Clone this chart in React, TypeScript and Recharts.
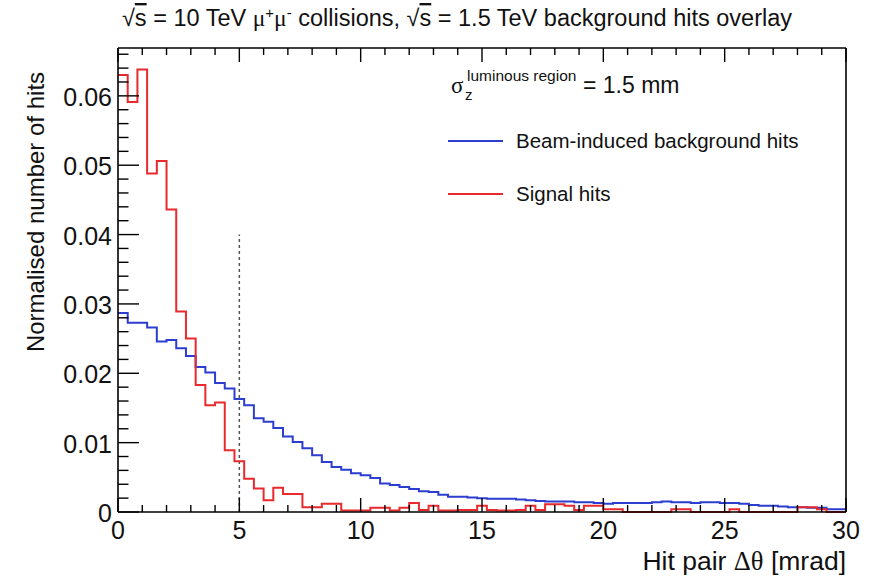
import React from 'react';
import { ComposedChart, Line, XAxis, YAxis, ReferenceLine, Customized } from 'recharts';

// Histogram binning: 75 bins of 0.4 mrad between 0 and 30 mrad
const BIN_WIDTH = 0.4;
const X_MIN = 0;
const X_MAX = 30;
const Y_MIN = 0;
const Y_MAX = 0.0669;

// Normalised hit counts per bin
const backgroundHits = [
  0.0287, 0.0273, 0.0273, 0.0266, 0.0246, 0.0248, 0.0236, 0.0225, 0.0209, 0.0201,
  0.0186, 0.0178, 0.0163, 0.0154, 0.0135, 0.0130, 0.0121, 0.0109, 0.0101, 0.0092,
  0.0082, 0.0072, 0.0065, 0.0061, 0.0056, 0.0053, 0.0049, 0.0041, 0.0039, 0.0036,
  0.0033, 0.0030, 0.0029, 0.0025, 0.0022, 0.0022, 0.0021, 0.0020, 0.0019, 0.0019,
  0.0019, 0.0018, 0.0017, 0.0016, 0.0015, 0.0015, 0.0015, 0.0014, 0.0014, 0.0013,
  0.0012, 0.0013, 0.0013, 0.0013, 0.0013, 0.0014, 0.0015, 0.0014, 0.0014, 0.0013,
  0.0014, 0.0014, 0.0013, 0.0013, 0.0012, 0.0010, 0.0009, 0.0009, 0.0008, 0.0007,
  0.0007, 0.0006, 0.0006, 0.0004, 0.0004,
];

const signalHits = [
  0.0630, 0.0591, 0.0638, 0.0488, 0.0506, 0.0436, 0.0289, 0.0250, 0.0183, 0.0154,
  0.0158, 0.0089, 0.0073, 0.0048, 0.0034, 0.0017, 0.0035, 0.0026, 0.0026, 0.0007,
  0.0007, 0.0012, 0.0012, 0.0002, 0.0002, 0.0002, 0.0006, 0.0006, 0.0002, 0.0006,
  0.0013, 0.0003, 0.0009, 0.0002, 0.0002, 0.0003, 0.0003, 0.0009, 0.0003, 0.0002,
  0.0002, 0.0003, 0.0009, 0.0003, 0.0011, 0.0011, 0.0009, 0.0003, 0.0009, 0.0009,
  0.0004, 0.0004, 0.0000, 0.0000, 0.0000, 0.0000, 0.0000, 0.0004, 0.0004, 0.0000,
  0.0000, 0.0000, 0.0000, 0.0004, 0.0000, 0.0000, 0.0000, 0.0000, 0.0000, 0.0000,
  0.0007, 0.0007, 0.0004, 0.0000, 0.0000,
];

// Axis ticks: majors carry labels, minors are unlabeled
const xTicks = [0, 1, 2, 3, 4, 5, 6, 7, 8, 9, 10, 11, 12, 13, 14, 15, 16, 17, 18, 19, 20, 21, 22, 23, 24, 25, 26, 27, 28, 29, 30];
const xMajorTicks = [0, 5, 10, 15, 20, 25, 30];
const yTicks = [
  0, 0.002, 0.004, 0.006, 0.008, 0.01, 0.012, 0.014, 0.016, 0.018, 0.02, 0.022, 0.024, 0.026, 0.028,
  0.03, 0.032, 0.034, 0.036, 0.038, 0.04, 0.042, 0.044, 0.046, 0.048, 0.05, 0.052, 0.054, 0.056, 0.058,
  0.06, 0.062, 0.064, 0.066,
];
const yMajorLabels: Record<string, string> = {
  '0': '0', '0.01': '0.01', '0.02': '0.02', '0.03': '0.03', '0.04': '0.04', '0.05': '0.05', '0.06': '0.06',
};

// Vertical cut marker
const CUT_X = 5;
const CUT_TOP = 0.04;

const BLUE = '#2b3ecf';
const RED = '#e8292d';
const SANS = '"Liberation Sans", Arial, Helvetica, sans-serif';
const SERIF = '"Liberation Serif", "DejaVu Serif", serif';

// Step-histogram table: one row per bin edge, last edge repeats the last bin
const histRows = Array.from({ length: backgroundHits.length + 1 }, (_, i) => {
  const k = Math.min(i, backgroundHits.length - 1);
  return {
    edge: Math.round(i * BIN_WIDTH * 1000) / 1000,
    background: backgroundHits[k],
    signal: signalHits[k],
  };
});

const isMajorX = (v: number) => xMajorTicks.includes(v);
const yLabelOf = (v: number) => yMajorLabels[String(+v.toFixed(3))];

const BottomTick = (props: any) => {
  const { x, y, payload } = props;
  const major = isMajorX(payload.value);
  const len = major ? 14 : 7;
  return (
    <g>
      <line x1={x} x2={x} y1={y} y2={y - len} stroke="#000" strokeWidth={1.4} />
      {major && (
        <text x={x} y={y + 27} textAnchor="middle" fontSize={25} fontFamily={SANS} fill="#111">
          {payload.value}
        </text>
      )}
    </g>
  );
};

const TopTick = (props: any) => {
  const { x, y, payload } = props;
  const len = isMajorX(payload.value) ? 14 : 7;
  return <line x1={x} x2={x} y1={y} y2={y + len} stroke="#000" strokeWidth={1.4} />;
};

const LeftTick = (props: any) => {
  const { x, y, payload } = props;
  const label = yLabelOf(payload.value);
  const len = label ? 21 : 10.5;
  return (
    <g>
      <line x1={x} x2={x + len} y1={y} y2={y} stroke="#000" strokeWidth={1.4} />
      {label && (
        <text x={x - 6} y={y + 10} textAnchor="end" fontSize={25} fontFamily={SANS} fill="#111">
          {label}
        </text>
      )}
    </g>
  );
};

const RightTick = (props: any) => {
  const { x, y, payload } = props;
  const len = yLabelOf(payload.value) ? 21 : 10.5;
  return <line x1={x - len} x2={x} y1={y} y2={y} stroke="#000" strokeWidth={1.4} />;
};

const overline = { textDecoration: 'overline' } as React.CSSProperties;

const Annotations = () => (
  <g>
    {/* Title */}
    <text x={457} y={26} textAnchor="middle" fontSize={23.5} fontFamily={SANS} fill="#111">
      <tspan>√</tspan>
      <tspan style={overline}>s</tspan>
      <tspan> = 10 TeV </tspan>
      <tspan fontFamily={SERIF}>μ</tspan>
      <tspan dy={-8} fontSize={15}>+</tspan>
      <tspan dy={8} fontFamily={SERIF}>μ</tspan>
      <tspan dy={-8} fontSize={15}>-</tspan>
      <tspan dy={8}> collisions, </tspan>
      <tspan>√</tspan>
      <tspan style={overline}>s</tspan>
      <tspan> = 1.5 TeV background hits overlay</tspan>
    </text>

    {/* Axis titles */}
    <text x={846} y={570} textAnchor="end" fontSize={26.5} fontFamily={SANS} fill="#111">
      <tspan>Hit pair </tspan>
      <tspan fontFamily={SERIF}>Δθ</tspan>
      <tspan> [mrad]</tspan>
    </text>
    <text
      x={44}
      y={212}
      textAnchor="middle"
      fontSize={24}
      fontFamily={SANS}
      fill="#111"
      transform="rotate(-90 44 212)"
    >
      Normalised number of hits
    </text>

    {/* Luminous region label */}
    <text x={451} y={93} fontSize={23} fontFamily={SERIF} fill="#111">σ</text>
    <text x={465} y={100} fontSize={15} fontFamily={SANS} fill="#111">z</text>
    <text x={467} y={81} fontSize={15.5} fontFamily={SANS} fill="#111">luminous region</text>
    <text x={583} y={93} fontSize={23} fontFamily={SANS} fill="#111">= 1.5 mm</text>

    {/* Legend */}
    <line x1={448} x2={503} y1={141} y2={141} stroke={BLUE} strokeWidth={2} />
    <text x={516} y={148} fontSize={20.5} fontFamily={SANS} fill="#111">Beam-induced background hits</text>
    <line x1={448} x2={503} y1={194} y2={194} stroke={RED} strokeWidth={2} />
    <text x={516} y={201} fontSize={20.5} fontFamily={SANS} fill="#111">Signal hits</text>
  </g>
);

export default function App() {
  return (
    <div style={{ position: 'absolute', left: 0, top: 0, width: 869, height: 578, background: '#fff' }}>
      <ComposedChart
        width={869}
        height={578}
        data={histRows}
        margin={{ top: 47, right: 22, bottom: 65, left: 117 }}
      >
        <XAxis
          xAxisId="bottom"
          dataKey="edge"
          type="number"
          domain={[X_MIN, X_MAX]}
          ticks={xTicks}
          interval={0}
          height={1}
          tickSize={0}
          tickMargin={0}
          tickLine={false}
          tick={<BottomTick />}
          axisLine={{ stroke: '#000', strokeWidth: 1.6 }}
        />
        <XAxis
          xAxisId="top"
          orientation="top"
          dataKey="edge"
          type="number"
          domain={[X_MIN, X_MAX]}
          ticks={xTicks}
          interval={0}
          height={1}
          tickSize={0}
          tickMargin={0}
          tickLine={false}
          tick={<TopTick />}
          axisLine={{ stroke: '#000', strokeWidth: 1.6 }}
        />
        <YAxis
          yAxisId="left"
          type="number"
          domain={[Y_MIN, Y_MAX]}
          ticks={yTicks}
          interval={0}
          width={1}
          tickSize={0}
          tickMargin={0}
          tickLine={false}
          tick={<LeftTick />}
          axisLine={{ stroke: '#000', strokeWidth: 1.6 }}
        />
        <YAxis
          yAxisId="right"
          orientation="right"
          type="number"
          domain={[Y_MIN, Y_MAX]}
          ticks={yTicks}
          interval={0}
          width={1}
          tickSize={0}
          tickMargin={0}
          tickLine={false}
          tick={<RightTick />}
          axisLine={{ stroke: '#000', strokeWidth: 1.6 }}
        />
        <ReferenceLine
          xAxisId="bottom"
          yAxisId="left"
          segment={[{ x: CUT_X, y: 0 }, { x: CUT_X, y: CUT_TOP }]}
          stroke="#555"
          strokeWidth={1.5}
          strokeDasharray="3 3"
        />
        <Line
          xAxisId="bottom"
          yAxisId="left"
          type="stepAfter"
          dataKey="background"
          stroke={BLUE}
          strokeWidth={2}
          dot={false}
          isAnimationActive={false}
        />
        <Line
          xAxisId="bottom"
          yAxisId="left"
          type="stepAfter"
          dataKey="signal"
          stroke={RED}
          strokeWidth={2}
          dot={false}
          isAnimationActive={false}
        />
        <Customized component={Annotations} />
      </ComposedChart>
    </div>
  );
}
